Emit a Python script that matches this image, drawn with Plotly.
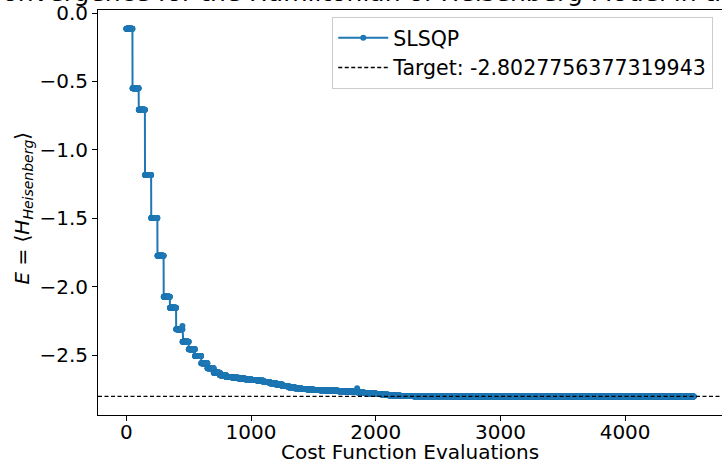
import plotly.graph_objects as go

# ---- data ----
evals_per_iteration = 50
iteration_energy = [
    -0.115, -0.550, -0.707, -1.184, -1.499, -1.774, -2.074, -2.154, -2.312, -2.403,
    -2.458, -2.507, -2.561, -2.597, -2.630, -2.648, -2.660, -2.667, -2.672, -2.677,
    -2.683, -2.689, -2.697, -2.706, -2.716, -2.726, -2.735, -2.743, -2.749, -2.753,
    -2.756, -2.758, -2.760, -2.762, -2.765, -2.767, -2.769, -2.773, -2.777, -2.781,
    -2.786, -2.790, -2.794, -2.797, -2.799, -2.800, -2.801, -2.8015, -2.8018, -2.8021,
    -2.8023, -2.8024, -2.8025, -2.8025, -2.8026, -2.8026, -2.8026, -2.8026, -2.8027, -2.8027,
    -2.8027, -2.8027, -2.8027, -2.8027, -2.8027, -2.8027, -2.8027, -2.8027, -2.8027, -2.8027,
    -2.8027, -2.8027, -2.8027, -2.8027, -2.8027, -2.8027, -2.8027, -2.8027, -2.8027, -2.8027,
    -2.8027, -2.8027, -2.8027, -2.8027, -2.8027, -2.8027, -2.8027, -2.8027, -2.8027, -2.8027,
    -2.8027,
]
# extra line-search evaluations (iteration number, energy)
extra_iteration = [9, 37]
extra_energy = [-2.288, -2.743]

target_energy = -2.8027756377319943
y_ticks = [0.0, -0.5, -1.0, -1.5, -2.0, -2.5]
x_ticks = [0, 1000, 2000, 3000, 4000]

# ---- build evaluation sequence ----
energies = []
for i, e in enumerate(iteration_energy, start=1):
    energies.extend([e] * evals_per_iteration)
    for it, ee in zip(extra_iteration, extra_energy):
        if it == i:
            energies.append(ee)
counts = list(range(len(energies)))

FONT = "DejaVu Sans"
BLUE = "#1f77b4"

fig = go.Figure()
fig.add_trace(go.Scatter(
    x=counts, y=energies, mode="lines+markers", name="SLSQP",
    line=dict(color=BLUE, width=2),
    marker=dict(color=BLUE, size=6, line=dict(width=0)),
))
fig.add_hline(y=target_energy, line=dict(color="black", width=1.3, dash="4px,2.5px"),
              showlegend=True, name=f"Target: {target_energy}")

fig.update_layout(
    width=722, height=464,
    margin=dict(l=98, r=0, t=10, b=49),
    paper_bgcolor="white", plot_bgcolor="white",
    font=dict(family=FONT, size=20, color="black"),
    showlegend=True,
    legend=dict(
        x=0.986, y=0.9827, xanchor="right", yanchor="top",
        itemwidth=50,
        bgcolor="rgba(255,255,255,0.8)", bordercolor="#cccccc", borderwidth=1,
        font=dict(family=FONT, size=20.5, color="black"),
    ),
    xaxis=dict(
        range=[-227, 4777], tickvals=x_ticks, ticktext=[str(v) for v in x_ticks],
        showgrid=False, zeroline=False, showline=True, mirror=True,
        linecolor="black", linewidth=1, ticks="outside", ticklen=5, tickwidth=1,
        tickcolor="black", tickfont=dict(family=FONT, size=20),
        ticklabelstandoff=-6,
    ),
    yaxis=dict(
        range=[-2.9386, 0.0219], tickvals=y_ticks, tickformat=".1f",
        showgrid=False, zeroline=False, showline=True, mirror=True,
        linecolor="black", linewidth=1, ticks="outside", ticklen=5, tickwidth=1,
        tickcolor="black", tickfont=dict(family=FONT, size=20),
    ),
    annotations=[
        dict(text="Cost Function Evaluations", xref="paper", yref="paper",
             x=0.5, y=-0.0906, xanchor="center", yanchor="middle",
             showarrow=False, font=dict(family=FONT, size=20)),
        dict(text="<i>E</i> = ⟨<i>H</i><sub><i>Heisenberg</i></sub>⟩",
             xref="paper", yref="paper", x=-0.12, y=0.51, textangle=-90,
             xanchor="center", yanchor="middle", showarrow=False,
             font=dict(family=FONT, size=20)),
        dict(text="Convergence for the Hamiltonian of Heisenberg Model in the Lattice",
             xref="paper", yref="paper", x=(-17.5 - 98) / 624, y=1.0444,
             xanchor="left", yanchor="middle", showarrow=False,
             font=dict(family=FONT, size=25)),
    ],
)

fig.write_html("out.html")
